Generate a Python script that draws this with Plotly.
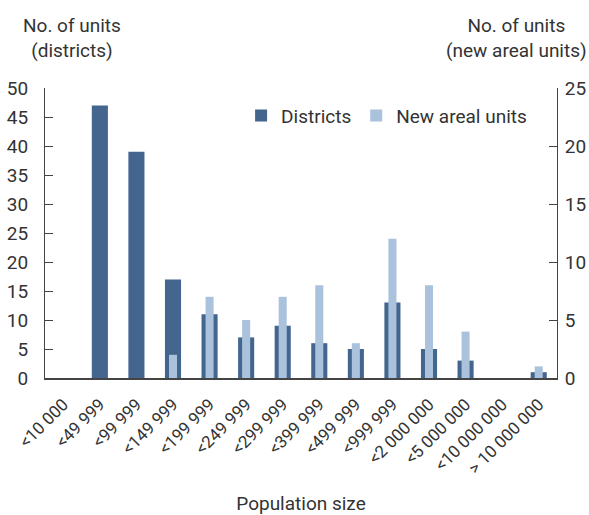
import plotly.graph_objects as go

categories = ["<10 000", "<49 999", "<99 999", "<149 999", "<199 999", "<249 999",
              "<299 999", "<399 999", "<499 999", "<999 999", "<2 000 000",
              "<5 000 000", "<10 000 000", "> 10 000 000"]
districts = [0, 47, 39, 17, 11, 7, 9, 6, 5, 13, 5, 3, 0, 1]
new_areal_units = [0, 0, 0, 2, 7, 5, 7, 8, 3, 12, 8, 4, 0, 1]

FONT = "Roboto, Liberation Sans Narrow, Arial Narrow, sans-serif"
DARK = "#43658e"
LIGHT = "#aac2dc"
AX = "#444444"

fig = go.Figure()
fig.add_trace(go.Bar(x=categories, y=districts, name="Districts", width=0.44,
                     marker=dict(color=DARK, line=dict(width=0)), yaxis="y"))
fig.add_trace(go.Bar(x=categories, y=new_areal_units, name="New areal units", width=0.22,
                     marker=dict(color=LIGHT, line=dict(width=0)), yaxis="y2"))

W, H = 589, 515
L, R, T, B = 45, 32, 88, 137
PW, PH = W - L - R, H - T - B

fig.update_layout(
    width=W, height=H,
    margin=dict(l=L, r=R, t=T, b=B, autoexpand=False),
    paper_bgcolor="white", plot_bgcolor="white",
    barmode="overlay",
    font=dict(family=FONT, size=18, color="#333333"),
    showlegend=True,
    legend=dict(orientation="h", x=0.383, y=0.97, xanchor="left", yanchor="top",
                font=dict(size=19, color="#333333"), bgcolor="rgba(0,0,0,0)",
                traceorder="normal"),
    xaxis=dict(type="category", tickangle=-45, showline=True, linecolor=AX, linewidth=1.5,
               ticks="", tickfont=dict(size=17), showgrid=False, automargin=False,
               range=[-0.5, 13.5], ticklabelstandoff=8,
               title=dict(text="Population size", font=dict(size=19), standoff=24)),
    yaxis=dict(range=[0, 50], dtick=5, showline=True, linecolor=AX, linewidth=1,
               ticks="inside", ticklen=8, tickcolor=AX, showgrid=False, zeroline=False,
               tickfont=dict(size=19), ticklabelstandoff=12, automargin=False),
    yaxis2=dict(range=[0, 25], dtick=5, overlaying="y", side="right", showline=True,
                linecolor=AX, linewidth=1, ticks="inside", ticklen=8, tickcolor=AX,
                showgrid=False, zeroline=False, tickfont=dict(size=19),
                ticklabelstandoff=3, automargin=False),
)

fig.add_annotation(text="No. of units<br>(districts)", xref="paper", yref="paper",
                   x=(72 - L) / PW, y=1.0 + (T - 12) / PH, xanchor="center", yanchor="top",
                   showarrow=False, align="center", font=dict(size=19))
fig.add_annotation(text="No. of units<br>(new areal units)", xref="paper", yref="paper",
                   x=(516 - L) / PW, y=1.0 + (T - 12) / PH, xanchor="center", yanchor="top",
                   showarrow=False, align="center", font=dict(size=19))

fig.write_html("out.html", config={"displayModeBar": False},
               post_script="document.body.style.margin='0';document.body.style.overflow='hidden';")
